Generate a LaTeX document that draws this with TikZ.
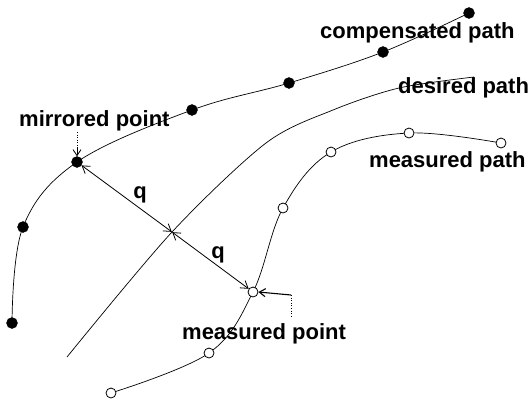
\documentclass[tikz,border=0pt]{standalone}
\usepackage{fontspec}
\setmainfont{Liberation Sans}
\usetikzlibrary{arrows.meta}
\begin{document}
\begin{tikzpicture}[x=1pt,y=-1pt,
  curve/.style={line width=0.7pt,black},
  fdot/.style={circle,fill=black,draw=black,inner sep=0pt,minimum size=11pt},
  odot/.style={circle,fill=white,draw=black,line width=0.8pt,inner sep=0pt,minimum size=10pt},
  lbl/.style={anchor=base west,inner sep=0pt,font=\fontsize{22}{26}\selectfont\bfseries},
  qlbl/.style={anchor=base,inner sep=0pt,font=\fontsize{22}{26}\selectfont\bfseries},
  arr/.style={line width=0.8pt,-{Straight Barb[length=6pt,width=8pt]}},
  darr/.style={line width=0.8pt,{Straight Barb[length=7pt,width=9pt]}-{Straight Barb[length=7pt,width=9pt]}}
]
\useasboundingbox (0,0) rectangle (532,400);
% coordinates
\coordinate (c1) at (12,323);
\coordinate (c2) at (23,227);
\coordinate (c3) at (77,162);
\coordinate (c4) at (192,110);
\coordinate (c5) at (289,83);
\coordinate (c6) at (383,52);
\coordinate (c7) at (469,13);
\coordinate (d0) at (67,357);
\coordinate (dc) at (172,232);
\coordinate (d1) at (266,143);
\coordinate (d2) at (333,110);
\coordinate (d3) at (399,88);
\coordinate (d4) at (474,77);
\coordinate (m1) at (111,393);
\coordinate (m2) at (209,353);
\coordinate (m3) at (253,292);
\coordinate (m4) at (283,208);
\coordinate (m5) at (331,152);
\coordinate (m6) at (409,133);
\coordinate (m7) at (501,143);
% curves
\draw[curve] plot[smooth,tension=0.6] coordinates {(c1) (c2) (c3) (c4) (c5) (c6) (c7)};
\draw[curve] plot[smooth,tension=0.5] coordinates {(d0) (dc) (d1) (d2) (d3) (d4)};
\draw[curve] plot[smooth,tension=0.6] coordinates {(m1) (m2) (m3) (m4) (m5) (m6) (m7)};
% labels
\node[lbl] (tcomp) at (320,38) {compensated path};
\node[lbl] (tdes) at (398,93) {desired path};
\node[lbl] (tmeasp) at (369,167) {measured path};
\node[lbl] (tmir) at (19,126) {mirrored point};
\node[lbl] (tmeaspt) at (182,339) {measured point};
% dots
\node[fdot] (n1) at (c1) {};
\node[fdot] (n2) at (c2) {};
\node[fdot] (mir) at (c3) {};
\node[fdot] (n4) at (c4) {};
\node[fdot] (n5) at (c5) {};
\node[fdot] (n6) at (c6) {};
\node[fdot] (n7) at (c7) {};
\node[odot] (o1) at (m1) {};
\node[odot] (o2) at (m2) {};
\node[odot] (meas) at (m3) {};
\node[odot] (o4) at (m4) {};
\node[odot] (o5) at (m5) {};
\node[odot] (o6) at (m6) {};
\node[odot] (o7) at (m7) {};
\node[inner sep=0pt,minimum size=0pt] (ctr) at (dc) {};
% error arrows
\draw[darr] (mir) -- (ctr);
\draw[darr] (ctr) -- (meas);
\node[qlbl] (q1) at (140,198) {q};
\node[qlbl] (q2) at (218,258) {q};
% pointer arrows
\coordinate (mirtop) at (77,132);
\draw[line width=0.6pt,dotted] (mirtop) -- ++(0,17);
\draw[arr] (77,147) -- (mir.north);
\coordinate (mcorner) at (291,295);
\coordinate (mbot) at (291,316);
\draw[line width=0.6pt,dotted] (mcorner) -- (mbot);
\draw[arr,line width=1.1pt] (mcorner) -- (meas.east);
\end{tikzpicture}
\end{document}
